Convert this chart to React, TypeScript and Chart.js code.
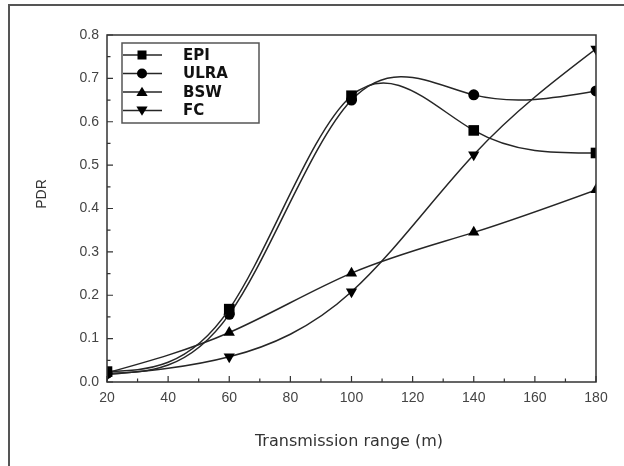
import React, { useEffect, useRef } from "react";
import { Chart, registerables } from "chart.js";

Chart.register(...registerables);

const ranges = [20, 60, 100, 140, 180];
const epi = [0.024, 0.168, 0.66, 0.58, 0.528];
const ulra = [0.02, 0.156, 0.65, 0.662, 0.671];
const bsw = [0.021, 0.114, 0.251, 0.345, 0.443];
const fc = [0.017, 0.058, 0.208, 0.524, 0.768];
const seriesNames = ["EPI", "ULRA", "BSW", "FC"];
const xTicksMajor = [20, 40, 60, 80, 100, 120, 140, 160, 180];
const yTicksMajor = [0, 0.1, 0.2, 0.3, 0.4, 0.5, 0.6, 0.7, 0.8];
const xTitle = "Transmission range (m)";
const yTitle = "PDR";

const LINE = "#262626";
const markers = ["rect", "circle", "triangle", "triangleDown"];

function drawMarker(ctx: CanvasRenderingContext2D, kind: string, x: number, y: number, r: number) {
  ctx.beginPath();
  if (kind === "rect") {
    ctx.rect(x - r, y - r, 2 * r, 2 * r);
  } else if (kind === "circle") {
    ctx.arc(x, y, r + 0.5, 0, Math.PI * 2);
  } else if (kind === "triangle") {
    ctx.moveTo(x, y - r * 1.15);
    ctx.lineTo(x + r * 1.25, y + r * 0.9);
    ctx.lineTo(x - r * 1.25, y + r * 0.9);
    ctx.closePath();
  } else {
    ctx.moveTo(x, y + r * 1.15);
    ctx.lineTo(x + r * 1.25, y - r * 0.9);
    ctx.lineTo(x - r * 1.25, y - r * 0.9);
    ctx.closePath();
  }
  ctx.fill();
}

// Natural cubic spline control points, computed on the pixel positions given by the chart's scales
const splinePlugin = {
  id: "naturalSpline",
  beforeDatasetsDraw(chart: any) {
    chart.data.datasets.forEach((_: any, di: number) => {
      const meta = chart.getDatasetMeta(di);
      const line = meta.dataset;
      if (!line) return;
      line.updateControlPoints(chart.chartArea, meta.indexAxis);
      const pts = meta.data;
      const n = pts.length;
      if (n < 3) return;
      const xs = pts.map((p: any) => p.x);
      const ys = pts.map((p: any) => p.y);
      const h: number[] = [];
      for (let i = 0; i < n - 1; i++) h.push(xs[i + 1] - xs[i]);
      // tridiagonal system for second derivatives M (natural: M0 = Mn-1 = 0)
      const a: number[] = new Array(n).fill(0);
      const b: number[] = new Array(n).fill(1);
      const c: number[] = new Array(n).fill(0);
      const d: number[] = new Array(n).fill(0);
      for (let i = 1; i < n - 1; i++) {
        a[i] = h[i - 1];
        b[i] = 2 * (h[i - 1] + h[i]);
        c[i] = h[i];
        d[i] = 6 * ((ys[i + 1] - ys[i]) / h[i] - (ys[i] - ys[i - 1]) / h[i - 1]);
      }
      const cp = c.slice();
      const dp = d.slice();
      for (let i = 1; i < n; i++) {
        const m = b[i] - a[i] * cp[i - 1];
        cp[i] = c[i] / m;
        dp[i] = (d[i] - a[i] * dp[i - 1]) / m;
      }
      const M: number[] = new Array(n).fill(0);
      M[n - 1] = dp[n - 1];
      for (let i = n - 2; i >= 0; i--) M[i] = dp[i] - cp[i] * M[i + 1];
      for (let i = 0; i < n - 1; i++) {
        const hi = h[i];
        const s = (ys[i + 1] - ys[i]) / hi;
        const m0 = s - (hi * (2 * M[i] + M[i + 1])) / 6;
        const m1 = s + (hi * (M[i] + 2 * M[i + 1])) / 6;
        pts[i].cp2x = xs[i] + hi / 3;
        pts[i].cp2y = ys[i] + (m0 * hi) / 3;
        pts[i + 1].cp1x = xs[i + 1] - hi / 3;
        pts[i + 1].cp1y = ys[i + 1] - (m1 * hi) / 3;
      }
      pts[0].cp1x = xs[0];
      pts[0].cp1y = ys[0];
      pts[n - 1].cp2x = xs[n - 1];
      pts[n - 1].cp2y = ys[n - 1];
      delete line._path;
    });
  },
};

const decoPlugin = {
  id: "deco",
  afterDraw(chart: any) {
    const ctx: CanvasRenderingContext2D = chart.ctx;
    const ca = chart.chartArea;
    const xs = chart.scales.x;
    const ys = chart.scales.y;
    ctx.save();
    ctx.strokeStyle = "#555";
    ctx.lineWidth = 2;
    ctx.beginPath();
    ctx.moveTo(9, 466);
    ctx.lineTo(9, 5);
    ctx.lineTo(624, 5);
    ctx.stroke();

    ctx.strokeStyle = "#333";
    ctx.lineWidth = 1.5;
    ctx.strokeRect(ca.left, ca.top, ca.right - ca.left, ca.bottom - ca.top);

    ctx.lineWidth = 1.2;
    ctx.beginPath();
    for (let v = 20; v <= 180; v += 10) {
      const px = xs.getPixelForValue(v);
      const len = v % 20 === 0 ? 6 : 3.5;
      ctx.moveTo(px, ca.bottom);
      ctx.lineTo(px, ca.bottom - len);
    }
    for (let i = 0; i <= 16; i++) {
      const v = i * 0.05;
      const py = ys.getPixelForValue(v);
      const len = i % 2 === 0 ? 6 : 3.5;
      ctx.moveTo(ca.left, py);
      ctx.lineTo(ca.left + len, py);
    }
    ctx.stroke();

    const lx = 122, ly = 43, lw = 137, lh = 80;
    ctx.fillStyle = "#fff";
    ctx.fillRect(lx, ly, lw, lh);
    ctx.strokeStyle = "#555";
    ctx.lineWidth = 1.5;
    ctx.strokeRect(lx, ly, lw, lh);
    ctx.font = "bold 15px 'DejaVu Sans', Verdana, sans-serif";
    ctx.textBaseline = "middle";
    ctx.textAlign = "left";
    chart.data.datasets.forEach((ds: any, i: number) => {
      const ry = 55 + i * 18.5;
      ctx.strokeStyle = LINE;
      ctx.lineWidth = 1.5;
      ctx.beginPath();
      ctx.moveTo(123, ry);
      ctx.lineTo(162, ry);
      ctx.stroke();
      ctx.fillStyle = "#000";
      drawMarker(ctx, markers[i], 142, ry, 4.5);
      ctx.fillStyle = "#111";
      ctx.fillText(ds.label, 183, ry + 1);
    });

    ctx.fillStyle = "#333";
    ctx.font = "16px 'DejaVu Sans', Verdana, sans-serif";
    ctx.textAlign = "center";
    ctx.textBaseline = "middle";
    ctx.fillText(xTitle, 349, 442);
    ctx.save();
    ctx.translate(42, 194);
    ctx.rotate(-Math.PI / 2);
    ctx.font = "14px 'Liberation Sans', Arial, sans-serif";
    ctx.fillText(yTitle, 0, 0);
    ctx.restore();
    ctx.restore();
  },
};

export default function App() {
  const ref = useRef<HTMLCanvasElement | null>(null);
  useEffect(() => {
    if (!ref.current) return;
    const all = [epi, ulra, bsw, fc];
    const styles = ["rect", "circle", "triangle", "triangle"];
    const rots = [0, 0, 0, 180];
    const radii = [7.5, 5.5, 6.5, 6.5];
    const datasets = all.map((arr, i) => ({
      label: seriesNames[i],
      data: arr.map((y, j) => ({ x: ranges[j], y })),
      borderColor: LINE,
      backgroundColor: "#000",
      borderWidth: 1.5,
      pointStyle: styles[i],
      pointRotation: rots[i],
      pointRadius: radii[i],
      pointBorderWidth: 0,
      pointBackgroundColor: "#000",
      tension: 0.4,
      fill: false,
    }));
    const tickFont = { family: "'Liberation Sans', Arial, sans-serif", size: 14 };
    const chart = new Chart(ref.current, {
      type: "line",
      data: { datasets },
      options: {
        animation: false,
        responsive: false,
        layout: { padding: { left: 57, right: 28, top: 35, bottom: 54 } },
        plugins: { legend: { display: false }, tooltip: { enabled: false }, title: { display: false } },
        scales: {
          x: {
            type: "linear",
            min: 20,
            max: 180,
            afterFit: (s: any) => { s.height = 30; },
            afterBuildTicks: (s: any) => { s.ticks = xTicksMajor.map((v) => ({ value: v })); },
            grid: { display: false, drawTicks: false },
            border: { display: false },
            ticks: { padding: 8, color: "#444", font: tickFont, maxRotation: 0 },
          },
          y: {
            type: "linear",
            min: 0,
            max: 0.8,
            afterFit: (s: any) => { s.width = 50; },
            afterBuildTicks: (s: any) => { s.ticks = yTicksMajor.map((v) => ({ value: v })); },
            grid: { display: false, drawTicks: false },
            border: { display: false },
            ticks: {
              padding: 8,
              color: "#444",
              font: tickFont,
              callback: (v: any) => Number(v).toFixed(1),
            },
          },
        },
      },
      plugins: [splinePlugin, decoPlugin],
    });
    return () => chart.destroy();
  }, []);
  return (
    <div style={{ position: "fixed", left: 0, top: 0, width: 624, height: 466, background: "#fff" }}>
      <canvas ref={ref} width={624} height={466} style={{ display: "block" }} />
    </div>
  );
}
